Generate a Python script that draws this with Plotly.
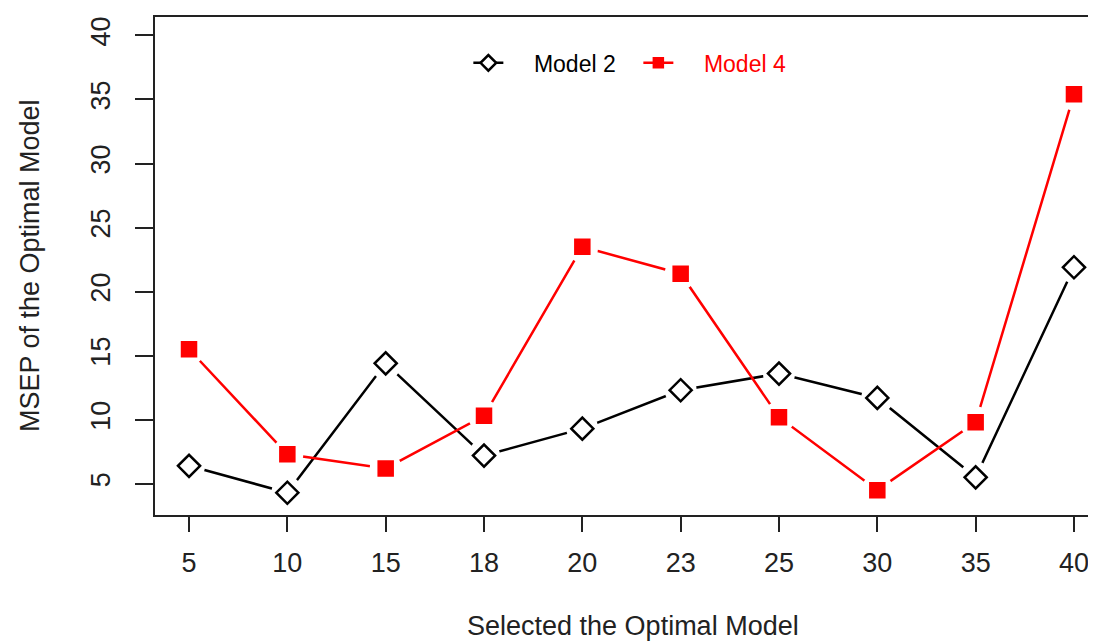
import plotly.graph_objects as go

categories = ["5", "10", "15", "18", "20", "23", "25", "30", "35", "40"]
model2 = [6.4, 4.3, 14.4, 7.2, 9.3, 12.3, 13.6, 11.7, 5.5, 21.9]
model4 = [15.5, 7.3, 6.2, 10.3, 23.5, 21.4, 10.2, 4.5, 9.8, 35.4]
y_ticks = [5, 10, 15, 20, 25, 30, 35, 40]

xi = list(range(1, len(categories) + 1))
FONT = "Liberation Sans, Arial, sans-serif"
NB = "\u00a0"

fig = go.Figure()

def add_series(vals, color, symbol, msize, name, fill):
    fig.add_trace(go.Scatter(x=xi, y=vals, mode="lines",
                             line=dict(color=color, width=2.5),
                             showlegend=False, hoverinfo="skip"))
    fig.add_trace(go.Scatter(x=xi, y=vals, mode="markers",
                             marker=dict(symbol="circle", size=32, color="white",
                                         line=dict(width=0)),
                             showlegend=False, hoverinfo="skip"))
    fig.add_trace(go.Scatter(x=xi, y=vals, mode="markers",
                             marker=dict(symbol=symbol, size=msize,
                                         color=fill,
                                         line=dict(color=color, width=2.5)),
                             showlegend=False, name=name))
    fig.add_trace(go.Scatter(x=[None], y=[None], mode="lines+markers",
                             line=dict(color=color, width=2.5),
                             marker=dict(symbol=symbol, size=msize - 5, color=fill,
                                         line=dict(color=color, width=2.5)),
                             name=f"<span style='color:{color}'>{NB * 4}{name}</span>",
                             showlegend=True))

add_series(model2, "black", "diamond", 17, "Model 2", "white")
add_series(model4, "red", "square", 14, "Model 4", "red")

fig.update_layout(
    width=1088, height=633,
    margin=dict(l=147, r=0, t=9, b=126, autoexpand=False),
    paper_bgcolor="white", plot_bgcolor="white",
    font=dict(family=FONT, size=27, color="#222"),
    showlegend=True,
    legend=dict(orientation="h", x=0.333, y=0.951, xanchor="left", yanchor="top",
                font=dict(size=23, family=FONT), bgcolor="rgba(0,0,0,0)",
                itemwidth=30, tracegroupgap=0, entrywidth=125),
    xaxis=dict(range=[0.654, 10.224], tickmode="array", tickvals=xi,
               ticktext=categories, showgrid=False, zeroline=False,
               showline=True, linecolor="#222", linewidth=2, mirror=True,
               ticks="outside", ticklen=15, tickwidth=2, tickcolor="#222",
               automargin=False, ticklabelstandoff=8,
               tickfont=dict(size=27, family=FONT, color="#222")),
    yaxis=dict(range=[2.56, 41.44], tickmode="array", tickvals=y_ticks,
               showgrid=False, zeroline=False,
               showline=True, linecolor="#222", linewidth=2,
               ticks="outside", ticklen=18, tickwidth=2, tickcolor="#222",
               tickangle=-90, automargin=False, ticklabelstandoff=14,
               tickfont=dict(size=27, family=FONT, color="#222")),
    annotations=[
        dict(text="Selected the Optimal Model", xref="paper", yref="paper",
             x=0.508, y=-0.222, xanchor="center", yanchor="middle",
             showarrow=False, font=dict(size=27, family=FONT, color="#222")),
        dict(text="MSEP of the Optimal Model", xref="paper", yref="paper",
             x=-0.1328, y=0.5, xanchor="center", yanchor="middle",
             textangle=-90, showarrow=False,
             font=dict(size=27, family=FONT, color="#222")),
    ],
)

fig.write_html("out.html")
